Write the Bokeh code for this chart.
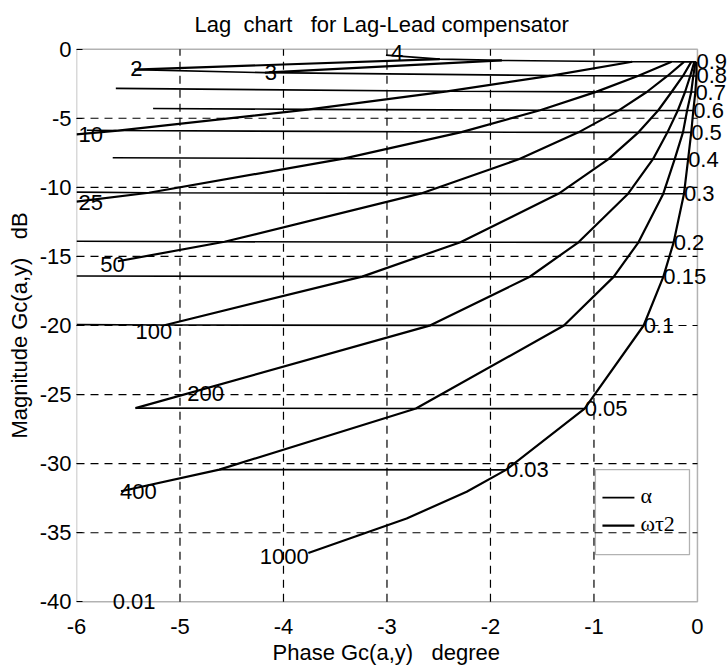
from bokeh.plotting import figure
from bokeh.models import Range1d, FixedTicker, BoxAnnotation, Label, PrintfTickFormatter, Title
from bokeh.embed import file_html
from bokeh.resources import INLINE

SANS = "Liberation Sans"
SERIF = "Liberation Serif"

# ---- constant-alpha lines (phase in degrees, magnitude in dB) ----
alpha_names = ["0.9", "0.8", "0.7", "0.6", "0.5", "0.4", "0.3", "0.2", "0.15", "0.1", "0.05", "0.03", "0.01"]
alpha_phase = [
    [-3.01, -2.49, -1.89, -0.63, -0.25, -0.13, -0.06, -0.03, -0.01],
    [-5.44, -4.18, -1.41, -0.57, -0.29, -0.14, -0.07, -0.04, -0.01],
    [-5.62, -2.42, -0.98, -0.49, -0.25, -0.12, -0.06, -0.02],
    [-5.26, -3.75, -1.52, -0.76, -0.38, -0.19, -0.10, -0.04],
    [-5.90, -5.60, -2.28, -1.15, -0.57, -0.29, -0.14, -0.06],
    [-5.65, -3.42, -1.72, -0.86, -0.43, -0.22, -0.09],
    [-6.00, -5.30, -2.67, -1.34, -0.67, -0.33, -0.13],
    [-6.00, -4.57, -2.29, -1.15, -0.57, -0.23],
    [-6.00, -3.24, -1.62, -0.81, -0.33],
    [-6.00, -5.14, -2.58, -1.29, -0.52],
    [-5.43, -2.72, -1.09],
    [-4.62, -1.85],
    [-5.65],
]
alpha_mag = [
    [-0.43, -0.72, -0.81, -0.91, -0.91, -0.92, -0.92, -0.92, -0.92],
    [-1.48, -1.70, -1.91, -1.93, -1.94, -1.94, -1.94, -1.94, -1.94],
    [-2.84, -3.05, -3.09, -3.10, -3.10, -3.10, -3.10, -3.10],
    [-4.29, -4.36, -4.42, -4.43, -4.44, -4.44, -4.44, -4.44],
    [-5.87, -5.89, -6.00, -6.02, -6.02, -6.02, -6.02, -6.02],
    [-7.86, -7.92, -7.95, -7.96, -7.96, -7.96, -7.96],
    [-10.35, -10.39, -10.44, -10.45, -10.46, -10.46, -10.46],
    [-13.90, -13.94, -13.97, -13.98, -13.98, -13.98],
    [-16.42, -16.46, -16.47, -16.48, -16.48],
    [-19.94, -19.96, -19.99, -20.00, -20.00],
    [-25.98, -26.01, -26.02],
    [-30.43, -30.45],
    [-39.96],
]

# ---- constant omega*tau2 curves ----
wt_names = ["4", "2", "3", "10", "25", "50", "100", "200", "400", "1000"]
wt_phase = [
    [-3.01],
    [-2.49, -5.44],
    [-1.89, -4.18],
    [-0.63, -1.41, -2.42, -3.75, -5.60, -6.00],
    [-0.25, -0.57, -0.98, -1.52, -2.28, -3.42, -5.30, -6.00],
    [-0.13, -0.29, -0.49, -0.76, -1.15, -1.72, -2.67, -4.57, -5.60],
    [-0.06, -0.14, -0.25, -0.38, -0.57, -0.86, -1.34, -2.29, -3.24, -5.14],
    [-0.03, -0.07, -0.12, -0.19, -0.29, -0.43, -0.67, -1.15, -1.62, -2.58, -5.43],
    [-0.02, -0.04, -0.06, -0.10, -0.14, -0.22, -0.33, -0.57, -0.81, -1.29, -2.72, -4.62, -5.57],
    [-0.01, -0.01, -0.02, -0.04, -0.06, -0.09, -0.13, -0.23, -0.33, -0.52, -1.09, -1.85, -2.23, -2.81, -3.76],
]
wt_mag = [
    [-0.43],
    [-0.72, -1.48],
    [-0.81, -1.70],
    [-0.91, -1.91, -3.05, -4.36, -5.89, -6.16],
    [-0.91, -1.93, -3.09, -4.42, -6.00, -7.92, -10.39, -11.04],
    [-0.92, -1.94, -3.10, -4.43, -6.02, -7.95, -10.44, -13.94, -15.35],
    [-0.92, -1.94, -3.10, -4.44, -6.02, -7.96, -10.45, -13.97, -16.46, -19.96],
    [-0.92, -1.94, -3.10, -4.44, -6.02, -7.96, -10.46, -13.98, -16.47, -19.99, -25.98],
    [-0.92, -1.94, -3.10, -4.44, -6.02, -7.96, -10.46, -13.98, -16.48, -20.00, -26.01, -30.43, -32.00],
    [-0.92, -1.94, -3.10, -4.44, -6.02, -7.96, -10.46, -13.98, -16.48, -20.00, -26.02, -30.45, -32.03, -33.97, -36.46],
]
# where each omega*tau2 label is written (phase, magnitude)
wt_label_phase = [-2.96, -5.48, -4.18, -5.98, -5.98, -5.77, -5.43, -4.93, -5.58, -4.23]
wt_label_mag = [-0.25, -1.40, -1.70, -6.20, -11.10, -15.60, -20.40, -24.90, -32.00, -36.70]

x_ticks = [-6, -5, -4, -3, -2, -1, 0]
y_ticks = [-40, -35, -30, -25, -20, -15, -10, -5, 0]
X_LIM = (-6, 0)
Y_LIM = (-40, 0)

# the canvas reaches a little past the axes box so that the end labels are not cut
p = figure(width=728, height=672,
           x_range=Range1d(-6, 0.3), y_range=Range1d(-40.7, 0.7),
           output_backend="svg", toolbar_location=None,
           min_border_left=76, min_border_right=0, min_border_top=39, min_border_bottom=61)
p.background_fill_color = "white"
p.border_fill_color = "white"
p.outline_line_color = None
p.xgrid.visible = False
p.ygrid.visible = False

p.title.text = "Lag\u00a0 chart\u00a0\u00a0 for Lag-Lead compensator"
p.title.align = "left"
p.title.offset = 118
p.title.text_font = SANS
p.title.text_font_size = "22px"
p.title.text_font_style = "normal"
p.title.text_color = "black"
p.title.standoff = 6

for ax, ticks in ((p.xaxis, x_ticks), (p.yaxis, y_ticks)):
    ax.ticker = FixedTicker(ticks=ticks)
    ax.formatter = PrintfTickFormatter(format="%d")
    ax.major_label_text_font = SANS
    ax.major_label_text_font_size = "22px"
    ax.major_label_text_color = "black"
    ax.axis_label_text_font = SANS
    ax.axis_label_text_font_size = "22px"
    ax.axis_label_text_font_style = "normal"
    ax.axis_label_text_color = "black"
    ax.axis_line_color = None
    ax.minor_tick_line_color = None
p.yaxis.major_tick_in = 6
p.yaxis.major_tick_out = 0
p.yaxis.major_tick_line_color = "black"
p.xaxis.major_tick_line_color = None
p.yaxis.axis_label = "Magnitude Gc(a,y)\u00a0\u00a0 dB"
p.xaxis.major_label_standoff = 1
p.yaxis.major_label_standoff = 5

# x-axis caption, centred under the axes box rather than the wider canvas
p.add_layout(Title(text="Phase Gc(a,y)\u00a0\u00a0 degree", align="left", offset=196,
                   text_font=SANS, text_font_size="22px", text_font_style="normal",
                   text_color="black", standoff=2), "below")

# dashed grid inside the axes box
p.multi_line([[x, x] for x in x_ticks[1:-1]], [list(Y_LIM)] * (len(x_ticks) - 2),
             line_color="black", line_dash="8 6", line_width=1.2)
p.multi_line([list(X_LIM)] * (len(y_ticks) - 2), [[y, y] for y in y_ticks[1:-1]],
             line_color="black", line_dash="8 6", line_width=1.2)

# axes box
p.add_layout(BoxAnnotation(left=X_LIM[0], right=X_LIM[1], bottom=Y_LIM[0], top=Y_LIM[1],
                           fill_alpha=0, line_color="black", line_width=1.5))

# constant-alpha lines
for xs, ys in zip(alpha_phase, alpha_mag):
    p.line(xs, ys, line_color="black", line_width=1.6)

# constant omega*tau2 curves
for xs, ys in zip(wt_phase, wt_mag):
    p.line(xs, ys, line_color="black", line_width=2.2)


def tag(x, y, text, font=SANS):
    p.add_layout(Label(x=x, y=y, text=text, text_font=font, text_font_size="22px",
                       text_baseline="middle", text_align="left", text_color="black"))


# alpha labels at the right-hand end of each line
for name, xs, ys in zip(alpha_names, alpha_phase, alpha_mag):
    tag(xs[-1], ys[-1], name)

# omega*tau2 labels
for name, x, y in zip(wt_names, wt_label_phase, wt_label_mag):
    tag(x, y, name)

# legend box
p.add_layout(BoxAnnotation(left=-0.986, right=-0.077, top=-30.43, bottom=-36.59,
                           fill_alpha=0, line_color="black", line_width=1.3))
p.line([-0.918, -0.609], [-32.46, -32.46], line_color="black", line_width=1.6)
p.line([-0.918, -0.609], [-34.49, -34.49], line_color="black", line_width=2.2)
tag(-0.55, -32.3, "\u03b1", SERIF)
tag(-0.55, -34.3, "\u03c9\u03c42", SERIF)

open("out.html", "w").write(file_html(p, INLINE))
